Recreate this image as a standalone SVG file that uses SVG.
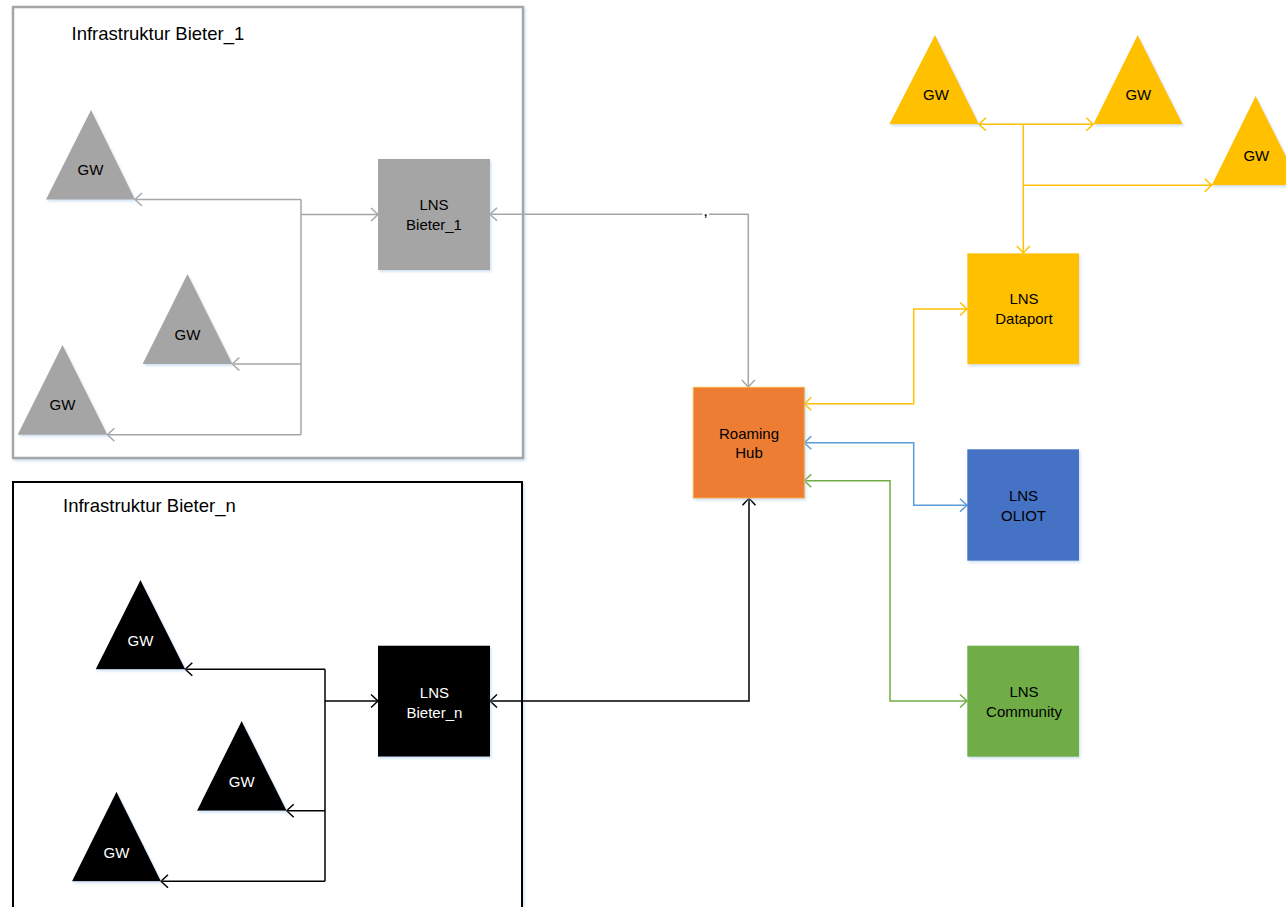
<svg xmlns="http://www.w3.org/2000/svg" width="1286" height="907" viewBox="0 0 1286 907">
<style>
text{font-family:"Liberation Sans",Arial,sans-serif;font-size:15px;fill:#000;text-anchor:middle}
.title{font-size:18.5px;text-anchor:start}
.w{fill:#fff}
.c{fill:none;stroke-width:1.5}
.gr{stroke:#A6A6A6}
.bk{stroke:#000}
.ye{stroke:#FFC000}
.bl{stroke:#5B9BD5}
.gn{stroke:#70AD47}
.sh{filter:url(#shadow)}
</style>
<defs>
<filter id="shadow" x="-10%" y="-10%" width="130%" height="130%">
<feDropShadow dx="1.5" dy="2" stdDeviation="1.2" flood-color="#9DC3E6" flood-opacity="0.45"/>
</filter>
<marker id="aGr" markerUnits="userSpaceOnUse" markerWidth="16" markerHeight="16" refX="0" refY="0" viewBox="-9 -8 11 16" orient="auto-start-reverse" overflow="visible"><path d="M-7,-6.5 L0,0 L-7,6.5" fill="none" stroke="#A6A6A6" stroke-width="1.5"/></marker>
<marker id="aBk" markerUnits="userSpaceOnUse" markerWidth="16" markerHeight="16" refX="0" refY="0" viewBox="-9 -8 11 16" orient="auto-start-reverse" overflow="visible"><path d="M-7,-6.5 L0,0 L-7,6.5" fill="none" stroke="#000" stroke-width="1.5"/></marker>
<marker id="aYe" markerUnits="userSpaceOnUse" markerWidth="16" markerHeight="16" refX="0" refY="0" viewBox="-9 -8 11 16" orient="auto-start-reverse" overflow="visible"><path d="M-7,-6.5 L0,0 L-7,6.5" fill="none" stroke="#FFC000" stroke-width="1.5"/></marker>
<marker id="aBl" markerUnits="userSpaceOnUse" markerWidth="16" markerHeight="16" refX="0" refY="0" viewBox="-9 -8 11 16" orient="auto-start-reverse" overflow="visible"><path d="M-7,-6.5 L0,0 L-7,6.5" fill="none" stroke="#5B9BD5" stroke-width="1.5"/></marker>
<marker id="aGn" markerUnits="userSpaceOnUse" markerWidth="16" markerHeight="16" refX="0" refY="0" viewBox="-9 -8 11 16" orient="auto-start-reverse" overflow="visible"><path d="M-7,-6.5 L0,0 L-7,6.5" fill="none" stroke="#70AD47" stroke-width="1.5"/></marker>
</defs>
<rect width="1286" height="907" fill="#fff"/>

<g id="frame_bieter_1">
<rect x="13" y="7" width="510" height="451" fill="#fff" stroke="#A6A6A6" stroke-width="2.5" class="sh"/>
<text class="title" x="71.5" y="40">Infrastruktur Bieter_1</text>
</g>
<g id="frame_bieter_n">
<rect x="13" y="482" width="509" height="440" fill="#fff" stroke="#000" stroke-width="2" class="sh"/>
<text class="title" x="63" y="512.3">Infrastruktur Bieter_n</text>
</g>

<g id="connectors">
<!-- Bieter_1 -->
<path class="c gr" d="M301,214.5 H378" marker-end="url(#aGr)"/>
<path class="c gr" d="M301,199.5 V434.7"/>
<path class="c gr" d="M301,199.5 H135" marker-end="url(#aGr)"/>
<path class="c gr" d="M301,364 H232.4" marker-end="url(#aGr)"/>
<path class="c gr" d="M301,434.7 H107.4" marker-end="url(#aGr)"/>
<path class="c gr" d="M490,214.3 H748.3 V387" marker-start="url(#aGr)" marker-end="url(#aGr)"/>
<!-- Bieter_n -->
<path class="c bk" d="M325,701 H378" stroke-width="2.5" marker-end="url(#aBk)"/>
<path class="c bk" d="M325,669.3 V881.3"/>
<path class="c bk" d="M325,669.3 H185.3" marker-end="url(#aBk)"/>
<path class="c bk" d="M325,810.7 H286.7" marker-end="url(#aBk)"/>
<path class="c bk" d="M325,881.3 H161" marker-end="url(#aBk)"/>
<path class="c bk" d="M490,701 H749 V498.3" marker-start="url(#aBk)" marker-end="url(#aBk)"/>
<!-- Dataport -->
<path class="c ye" d="M979,124.3 H1093.3" marker-start="url(#aYe)" marker-end="url(#aYe)"/>
<path class="c ye" d="M1023.3,124.3 V253" marker-end="url(#aYe)"/>
<path class="c ye" d="M1023.3,185.3 H1211.7" marker-end="url(#aYe)"/>
<path class="c ye" d="M804.3,403.7 H913.7 V309 H967" marker-start="url(#aYe)" marker-end="url(#aYe)"/>
<!-- OLIOT -->
<path class="c bl" d="M804.3,442.7 H913.7 V505.3 H967" marker-start="url(#aBl)" marker-end="url(#aBl)"/>
<!-- Community -->
<path class="c gn" d="M804.3,480.7 H890 V701 H967" marker-start="url(#aGn)" marker-end="url(#aGn)"/>
<rect x="702.5" y="208" width="6.5" height="12" fill="#fff"/>
<text x="705.7" y="216" style="font-size:17px">,</text>
</g>

<g id="gw_b1_1"><polygon points="91,110 135,199.5 46,199.5" fill="#A5A5A5" class="sh"/><text x="90.5" y="174.7">GW</text></g>
<g id="gw_b1_2"><polygon points="187.5,274 232.4,364 142.6,364" fill="#A5A5A5" class="sh"/><text x="187.5" y="339.7">GW</text></g>
<g id="gw_b1_3"><polygon points="62.5,345 107.4,434.7 17.6,434.7" fill="#A5A5A5" class="sh"/><text x="62.5" y="410">GW</text></g>
<g id="lns_bieter_1"><rect x="378" y="159" width="112" height="111" fill="#A5A5A5" class="sh"/><text x="434" y="210.4">LNS</text><text x="434" y="230.4">Bieter_1</text></g>

<g id="gw_bn_1"><polygon points="140.5,580 185.3,669.3 95.7,669.3" fill="#000" class="sh"/><text class="w" x="140.5" y="646.4">GW</text></g>
<g id="gw_bn_2"><polygon points="241.7,721 286.7,810.7 197,810.7" fill="#000" class="sh"/><text class="w" x="241.7" y="787">GW</text></g>
<g id="gw_bn_3"><polygon points="116.5,791.7 161,881.3 72,881.3" fill="#000" class="sh"/><text class="w" x="116.5" y="858">GW</text></g>
<g id="lns_bieter_n"><rect x="378" y="645.7" width="112" height="111" fill="#000" class="sh"/><text class="w" x="434.4" y="698">LNS</text><text class="w" x="434.4" y="717.7">Bieter_n</text></g>

<g id="roaming_hub"><rect x="693.3" y="387.3" width="111" height="110.7" fill="#ED7D31" stroke="#F5B041" stroke-width="1" class="sh"/><text x="749" y="438.7">Roaming</text><text x="749" y="458">Hub</text></g>

<g id="gw_dp_1"><polygon points="935,35 979,124.3 889.3,124.3" fill="#FFC000" class="sh"/><text x="936" y="100.4">GW</text></g>
<g id="gw_dp_2"><polygon points="1137.7,35 1182.7,124.3 1093.3,124.3" fill="#FFC000" class="sh"/><text x="1138.3" y="100.4">GW</text></g>
<g id="gw_dp_3"><polygon points="1255.7,96 1300.5,185.3 1211.7,185.3" fill="#FFC000" class="sh"/><text x="1256.3" y="161.4">GW</text></g>
<g id="lns_dataport"><rect x="967.3" y="253.3" width="111.7" height="111" fill="#FFC000" class="sh"/><text x="1024" y="304.4">LNS</text><text x="1024" y="324.4">Dataport</text></g>
<g id="lns_oliot"><rect x="967.3" y="449.3" width="111.7" height="111.4" fill="#4472C4" class="sh"/><text x="1023.5" y="501.4">LNS</text><text x="1023.5" y="521.4">OLIOT</text></g>
<g id="lns_community"><rect x="967.3" y="645.7" width="111.7" height="111" fill="#70AD47" class="sh"/><text x="1024" y="697.4">LNS</text><text x="1024" y="717">Community</text></g>
</svg>
